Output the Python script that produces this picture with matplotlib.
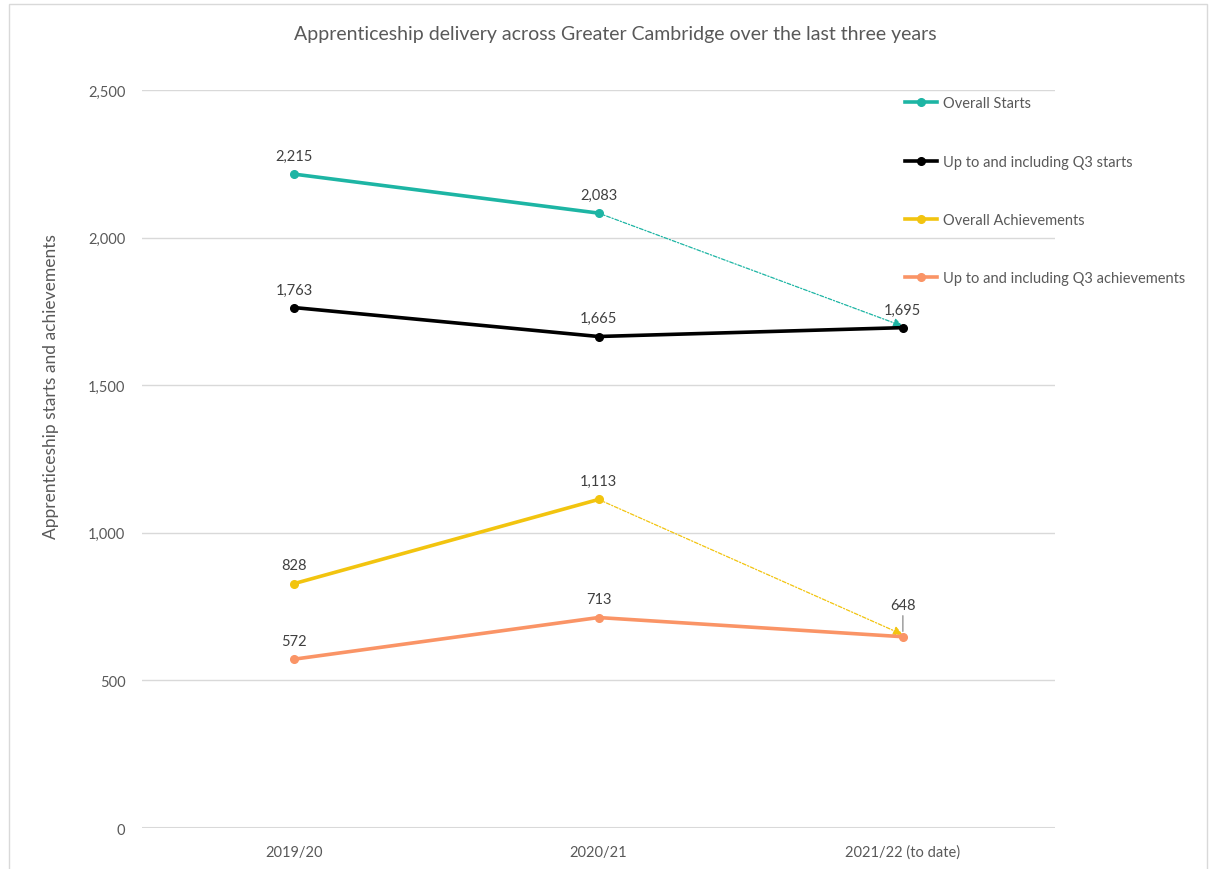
import matplotlib.pyplot as plt
from matplotlib.patches import Rectangle

plt.rcParams["font.family"] = ["Lato", "DejaVu Sans"]

years = ["2019/20", "2020/21", "2021/22 (to date)"]
overall_starts = [2215, 2083]
q3_starts = [1763, 1665, 1695]
overall_achievements = [828, 1113]
q3_achievements = [572, 713, 648]
# dotted trend arrows towards the current year
starts_trend = [2083, 1700]
achievements_trend = [1113, 655]

teal = "#1DB5A4"
yellow = "#F2C40F"
orange = "#FA9466"
grey = "#595959"

fig = plt.figure(figsize=(12.16, 8.7), dpi=100)
ax = fig.add_axes([0.1168, 0.0471, 0.7508, 0.8483])

# chart border
fig.patches.append(Rectangle((0.007, -0.01), 0.986, 1.004, transform=fig.transFigure,
                             fill=False, edgecolor="#d9d9d9", linewidth=1))

x = list(range(len(years)))
series = [
    (overall_starts, teal, "Overall Starts"),
    (q3_starts, "black", "Up to and including Q3 starts"),
    (overall_achievements, yellow, "Overall Achievements"),
    (q3_achievements, orange, "Up to and including Q3 achievements"),
]
for vals, col, lab in series:
    xs = x[: len(vals)]
    ax.plot(xs, vals, color=col, lw=2.6, marker="o", ms=5.5, label=lab, zorder=3)

# trend arrows
for trend, col in [(starts_trend, teal), (achievements_trend, yellow)]:
    ax.annotate("", xy=(2, trend[1]), xytext=(1, trend[0]),
                arrowprops=dict(arrowstyle="-|>", color=col, lw=0.9, ls=(0, (3, 1.5, 1, 1.5)),
                                mutation_scale=14, shrinkA=0, shrinkB=0), zorder=2)

# data labels
def label(xi, v, dy=8):
    ax.annotate(f"{v:,}", (xi, v), xytext=(0, dy), textcoords="offset points",
                ha="center", va="bottom", fontsize=10.5, color="#404040")

for i, v in enumerate(overall_starts):
    label(i, v)
for i, v in enumerate(q3_starts):
    label(i, v)
for i, v in enumerate(overall_achievements):
    label(i, v)
for i, v in enumerate(q3_achievements[:2]):
    label(i, v)
ax.annotate(f"{q3_achievements[2]:,}", (2, q3_achievements[2]), xytext=(0, 18),
            textcoords="offset points", ha="center", va="bottom", fontsize=10.5,
            color="#404040",
            arrowprops=dict(arrowstyle="-", color="#a6a6a6", lw=1.2, shrinkA=1, shrinkB=4))

ax.set_xlim(-0.5, 2.5)
ax.set_ylim(0, 2500)
ax.set_yticks(range(0, 2501, 500))
ax.set_yticklabels([f"{t:,}" for t in range(0, 2501, 500)])
ax.set_xticks(x)
ax.set_xticklabels(years)
ax.tick_params(length=0, labelsize=10.5, labelcolor=grey, pad=12)
ax.grid(axis="y", color="#d9d9d9", lw=1)
ax.axhline(0, color="#d9d9d9", lw=1.5, zorder=0)
ax.set_axisbelow(True)
for s in ax.spines.values():
    s.set_visible(False)

ax.set_ylabel("Apprenticeship starts and achievements", fontsize=12.5, color=grey)
ax.yaxis.set_label_coords(-0.091, 0.6)
ax.set_title("Apprenticeship delivery across Greater Cambridge over the last three years",
             fontsize=14, color=grey, pad=37, x=0.518)

fig.legend(loc="upper left", bbox_to_anchor=(0.744, 0.888), frameon=False, fontsize=10.5,
           labelcolor=grey, handlelength=2.2, handletextpad=0.45, labelspacing=3.04,
           borderpad=0, borderaxespad=0)

fig.savefig("out.png", dpi=100)
